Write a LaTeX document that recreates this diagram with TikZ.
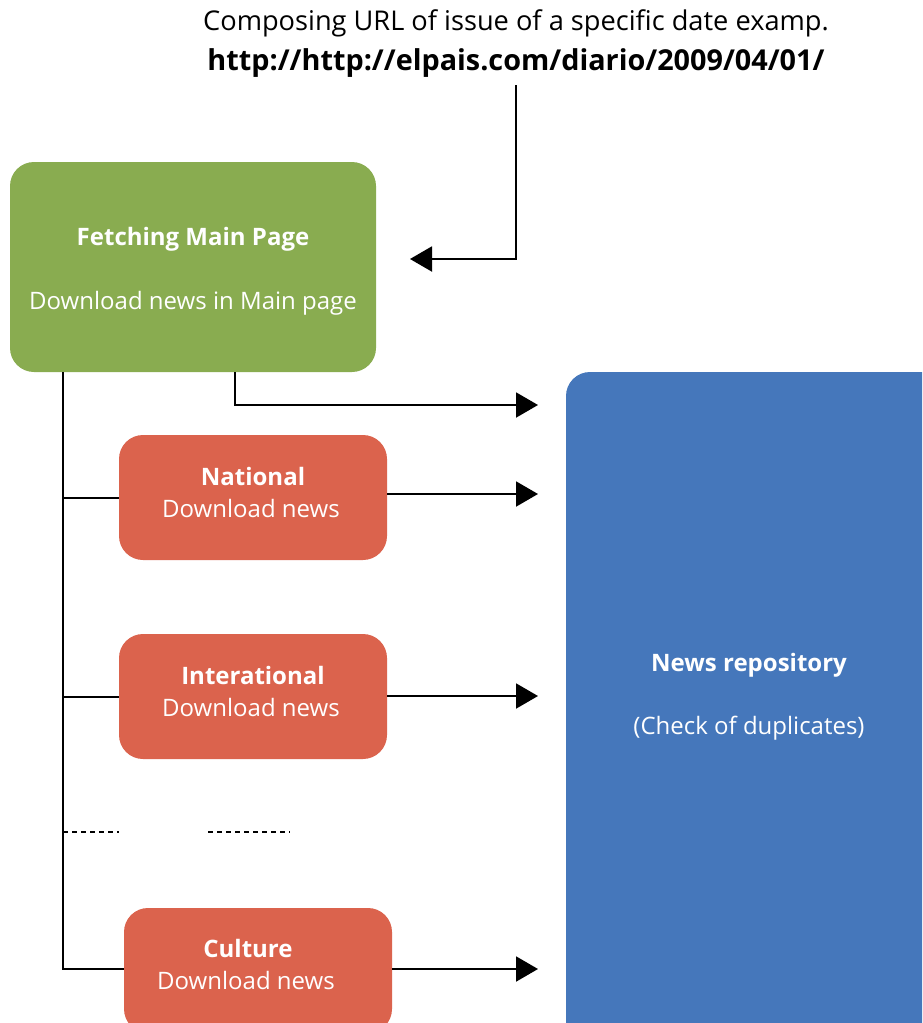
\documentclass[tikz,border=0pt]{standalone}
\usepackage{fontspec}
\setmainfont{Open Sans}
\usetikzlibrary{arrows.meta}
\definecolor{cgreen}{RGB}{137,172,80}
\definecolor{cred}{RGB}{219,99,77}
\definecolor{cblue}{RGB}{69,119,187}
\begin{document}
\begin{tikzpicture}[x=1pt,y=-1pt,
  box/.style={rounded corners=24pt, inner sep=0pt, draw=none},
  lbl/.style={text=white, inner sep=0pt, anchor=base, font=\fontsize{24}{28}\selectfont},
  blbl/.style={lbl, font=\fontsize{24}{28}\selectfont\bfseries},
  conn/.style={line width=2pt},
  arr/.style={conn, -{Triangle[length=22pt,width=25pt]}},
  dsh/.style={line width=2pt, dash pattern=on 5pt off 4pt}
  ]
\useasboundingbox (0,0) rectangle (922,1023);
\clip (0,0) rectangle (922,1023);
% boxes
\node[box, fill=cgreen, minimum width=366pt, minimum height=210pt] (main) at (193,267) {};
\node[box, fill=cred, minimum width=268pt, minimum height=125pt] (nat) at (253,497.5) {};
\node[box, fill=cred, minimum width=268pt, minimum height=125pt] (int) at (253,696.5) {};
\node[box, fill=cred, minimum width=268pt, minimum height=125pt] (cult) at (258,970.5) {};
\node[box, fill=cblue, minimum width=380pt, minimum height=700pt] (repo) at (756,722) {};
% texts
\node[lbl, text=black, font=\fontsize{27.2}{32}\selectfont] (cap) at (516,30) {Composing URL of issue of a specific date examp.};
\node[blbl, text=black, font=\fontsize{28.8}{32}\selectfont\bfseries] (url) at (516,70) {http://http://elpais.com/diario/2009/04/01/};
\node[blbl] (mainT) at (193,245) {Fetching Main Page};
\node[lbl] (mainS) at (193,309) {Download news in Main page};
\node[blbl] (natT) at (253,485) {National};
\node[lbl] (natS) at (251,517) {Download news};
\node[blbl] (intT) at (253,684) {Interational};
\node[lbl] (intS) at (251,716) {Download news};
\node[blbl] (cultT) at (248,957) {Culture};
\node[lbl] (cultS) at (246,989) {Download news};
\node[blbl] (repoT) at (749,671) {News repository};
\node[lbl] (repoS) at (749,734) {(Check of duplicates)};
% coordinates
\coordinate (urlEnd) at (516,85);
\coordinate (mainIn) at (410,259);
\coordinate (trunk) at (63,372);
\coordinate (mainOut) at (235,372);
\coordinate (r0) at (538,405);
\coordinate (r1) at (538,494);
\coordinate (r2) at (538,696);
\coordinate (r3) at (538,969);
\coordinate (d1a) at (63,832);
\coordinate (d1b) at (119,832);
\coordinate (d2a) at (208,832);
\coordinate (d2b) at (290,832);
% connectors
\draw[arr] (urlEnd) |- (mainIn);
\draw[conn] (trunk) |- (r3 -| cult.west);
\draw[conn] (nat.west) -- (nat.west -| trunk);
\draw[conn] (int.west) -- (int.west -| trunk);
\draw[arr] (mainOut) |- (r0);
\draw[arr] (r1 -| nat.east) -- (r1);
\draw[arr] (r2 -| int.east) -- (r2);
\draw[arr] (r3 -| cult.east) -- (r3);
\draw[dsh] (d1a) -- (d1b);
\draw[dsh] (d2a) -- (d2b);
\end{tikzpicture}
\end{document}
